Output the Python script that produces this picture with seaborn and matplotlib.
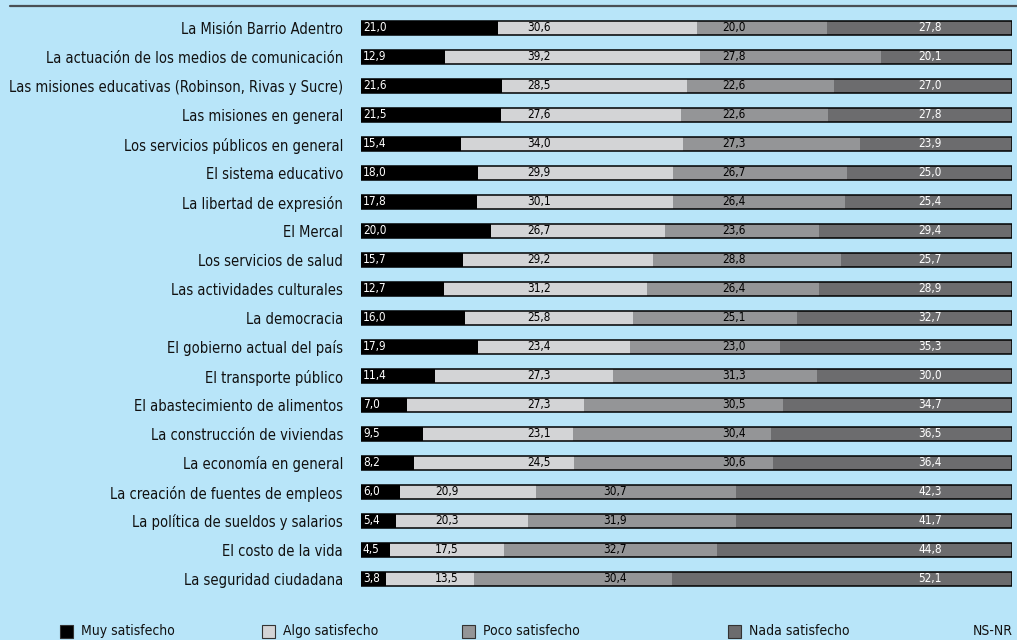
import matplotlib
matplotlib.use("Agg")
import matplotlib.pyplot as plt
import numpy as np
import pandas as pd
import seaborn as sns
from matplotlib.lines import Line2D
from matplotlib.patches import Rectangle

# --- data (percent of respondents) ---
categories = [
    "La Misión Barrio Adentro",
    "La actuación de los medios de comunicación",
    "Las misiones educativas (Robinson, Rivas y Sucre)",
    "Las misiones en general",
    "Los servicios públicos en general",
    "El sistema educativo",
    "La libertad de expresión",
    "El Mercal",
    "Los servicios de salud",
    "Las actividades culturales",
    "La democracia",
    "El gobierno actual del país",
    "El transporte público",
    "El abastecimiento de alimentos",
    "La construcción de viviendas",
    "La economía en general",
    "La creación de fuentes de empleos",
    "La política de sueldos y salarios",
    "El costo de la vida",
    "La seguridad ciudadana",
]
muy = [21.0, 12.9, 21.6, 21.5, 15.4, 18.0, 17.8, 20.0, 15.7, 12.7,
       16.0, 17.9, 11.4, 7.0, 9.5, 8.2, 6.0, 5.4, 4.5, 3.8]
algo = [30.6, 39.2, 28.5, 27.6, 34.0, 29.9, 30.1, 26.7, 29.2, 31.2,
        25.8, 23.4, 27.3, 27.3, 23.1, 24.5, 20.9, 20.3, 17.5, 13.5]
poco = [20.0, 27.8, 22.6, 22.6, 27.3, 26.7, 26.4, 23.6, 28.8, 26.4,
        25.1, 23.0, 31.3, 30.5, 30.4, 30.6, 30.7, 31.9, 32.7, 30.4]
nada = [27.8, 20.1, 27.0, 27.8, 23.9, 25.0, 25.4, 29.4, 25.7, 28.9,
        32.7, 35.3, 30.0, 34.7, 36.5, 36.4, 42.3, 41.7, 44.8, 52.1]
series_names = ["Muy satisfecho", "Algo satisfecho", "Poco satisfecho", "Nada satisfecho"]
total_pct = 100.0  # the remainder up to 100 is NS-NR

BG = "#b8e5f9"
COLORS = ["#000000", "#d3d4d6", "#949597", "#6c6c6e"]
TEXT_COLORS = ["white", "black", "black", "white"]

df = pd.DataFrame({"cat": categories, "muy": muy, "algo": algo, "poco": poco, "nada": nada})
df["c1"] = df["muy"]
df["c2"] = df["c1"] + df["algo"]
df["c3"] = df["c2"] + df["poco"]
df["total"] = total_pct

sns.set_theme(style="white")
plt.rcParams["font.family"] = ["DejaVu Sans"]
plt.rcParams["font.stretch"] = "condensed"

fig = plt.figure(figsize=(10.17, 6.4), dpi=100, facecolor=BG)
ax = fig.add_axes([361 / 1017, 1 - 593.5 / 640, 651 / 1017, 580 / 640])
ax.set_facecolor(BG)

# stacked bars: draw cumulative totals from the outside in
bar_w = 0.5
for col, color in zip(["total", "c3", "c2", "c1"], [COLORS[3], COLORS[2], COLORS[1], COLORS[0]]):
    sns.barplot(data=df, x=col, y="cat", color=color, width=bar_w,
                linewidth=0, edgecolor="none", saturation=1, ax=ax)
# outline around each whole bar
sns.barplot(data=df, x="total", y="cat", color="black", width=bar_w,
            fill=False, linewidth=1.1, saturation=1, ax=ax)

# value labels: fixed columns, shifted left on rows where the segments are short
main_cols = [0.2, 25.6, 55.5, 85.6]
alt_cols = [0.2, 11.4, 37.2, 85.6]
label_w = 4.6
for i, row in df.iterrows():
    starts = [0, row["c1"], row["c2"], row["c3"]]
    vals = [row["muy"], row["algo"], row["poco"], row["nada"]]
    fits = all(main_cols[k] + label_w <= starts[k] + vals[k] for k in (1, 2))
    cols = main_cols if fits else alt_cols
    for k in range(4):
        x = max(cols[k], starts[k] + 0.3)
        ax.text(x, i - 0.03, f"{vals[k]:.1f}".replace(".", ","), ha="left", va="center",
                fontsize=8.5, color=TEXT_COLORS[k], fontstretch="condensed")

ax.set_xlim(0, 100)
ax.set_ylim(len(categories) - 0.5, -0.5)
ax.set_xlabel("")
ax.set_ylabel("")
ax.set_xticks([])
ax.tick_params(axis="y", length=0, pad=13, labelsize=10.5, labelcolor="#111111")
sns.despine(ax=ax, left=True, bottom=True)

# rule at the top
fig.add_artist(Line2D([10 / 1017, 1.0], [1 - 6 / 640, 1 - 6 / 640], color="#4a4f55", lw=1.6))

# legend along the bottom
legend_x = [60, 262, 462, 728]
for name, color, lx in zip(series_names, COLORS, legend_x):
    fig.add_artist(Rectangle((lx / 1017, 1 - 638 / 640), 13 / 1017, 13 / 640,
                             facecolor=color, edgecolor="#333333", lw=0.8,
                             transform=fig.transFigure))
    fig.text((lx + 21) / 1017, 1 - 631 / 640, name, ha="left", va="center",
             fontsize=10, color="#111111", fontstretch="condensed")
fig.text(1013 / 1017, 1 - 631 / 640, "NS-NR", ha="right", va="center",
         fontsize=10, color="#111111", fontstretch="condensed")

fig.savefig("out.png", dpi=100, facecolor=BG)
